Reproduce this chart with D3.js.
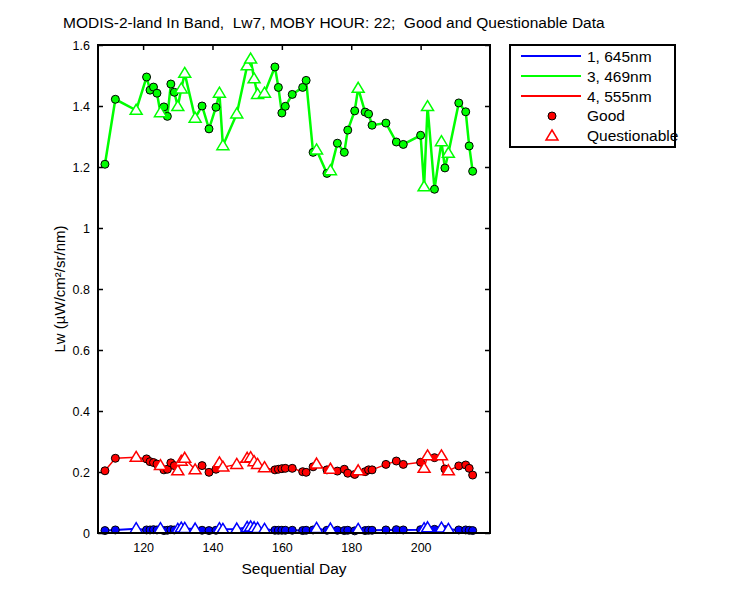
<!DOCTYPE html>
<html><head><meta charset="utf-8">
<script src="https://cdn.jsdelivr.net/npm/d3@7"></script>
<style>body{margin:0;background:#fff}svg{display:block;font-family:"Liberation Sans",Arial,sans-serif}text{white-space:pre}</style>
</head><body>
<script>
const days = [109,112,118,121,122,123,124,125,126,127,128,129,130,131,132,135,137,139,141,142,143,147,150,151,152,153,155,158,159,160,161,163,166,167,169,170,173,174,176,178,179,181,182,184,185,186,190,193,195,200,201,202,204,206,207,208,211,213,214,215];
const quality = ["G","G","Q","G","G","G","G","Q","G","G","G","G","Q","Q","Q","Q","G","G","G","Q","Q","Q","Q","Q","Q","Q","Q","G","G","G","G","G","G","G","G","Q","G","Q","G","G","G","G","Q","G","G","G","G","G","G","G","Q","Q","G","Q","G","Q","G","G","G","G"];
const lw645 = [.008,.010,.014,.010,.010,.011,.010,.014,.008,.009,.011,.010,.012,.016,.015,.013,.009,.008,.009,.014,.012,.013,.018,.020,.017,.015,.012,.009,.009,.009,.009,.009,.008,.009,.010,.015,.009,.013,.009,.008,.009,.007,.012,.008,.009,.009,.010,.011,.010,.011,.014,.017,.012,.016,.011,.012,.010,.010,.009,.008];
const lw469 = [1.209,1.422,1.386,1.495,1.452,1.462,1.442,1.378,1.397,1.366,1.472,1.445,1.398,1.456,1.507,1.360,1.400,1.325,1.396,1.442,1.270,1.374,1.532,1.554,1.489,1.438,1.442,1.528,1.461,1.377,1.399,1.438,1.461,1.484,1.248,1.256,1.179,1.188,1.278,1.248,1.321,1.384,1.458,1.380,1.374,1.337,1.344,1.282,1.274,1.304,1.135,1.398,1.127,1.283,1.197,1.245,1.410,1.381,1.269,1.186];
const lw555 = [.204,.245,.248,.243,.234,.231,.226,.221,.207,.209,.230,.221,.204,.235,.245,.207,.221,.199,.209,.230,.216,.225,.245,.247,.234,.225,.214,.207,.209,.211,.212,.212,.201,.199,.217,.226,.207,.209,.203,.209,.196,.192,.204,.201,.207,.207,.225,.236,.225,.232,.212,.253,.247,.253,.210,.204,.220,.223,.212,.190];
const xTicks = [120,140,160,180,200];
const yTicks = [0,0.2,0.4,0.6,0.8,1,1.2,1.4,1.6];
const seriesNames = ["1, 645nm","3, 469nm","4, 555nm"];
const seriesColors = ["#0000ff","#00ff00","#ff0000"];
const seriesValues = [lw645, lw469, lw555];
const legendMarkers = ["Good","Questionable"];
const titleText = "MODIS-2-land In Band,  Lw7, MOBY HOUR: 22;  Good and Questionable Data";

const W=750,H=600, L=98,T=45,PW=392,PH=488;
const svg=d3.select("body").append("svg").attr("width",W).attr("height",H);
const x=d3.scaleLinear().domain([107,220]).range([L,L+PW]);
const y=d3.scaleLinear().domain([0,1.6]).range([T+PH,T]);

const fmt = d => String(d);
const gx=svg.append("g").attr("transform",`translate(0,${T+PH})`)
  .call(d3.axisBottom(x).tickValues(xTicks).tickSizeInner(-5).tickSizeOuter(0).tickPadding(10));
const gxTop=svg.append("g").attr("transform",`translate(0,${T})`)
  .call(d3.axisTop(x).tickValues(xTicks).tickSizeInner(-5).tickSizeOuter(0).tickFormat(""));
const gy=svg.append("g").attr("transform",`translate(${L},0)`)
  .call(d3.axisLeft(y).tickValues(yTicks).tickFormat(fmt).tickSizeInner(-5).tickSizeOuter(0).tickPadding(8));
const gyR=svg.append("g").attr("transform",`translate(${L+PW},0)`)
  .call(d3.axisRight(y).tickValues(yTicks).tickSizeInner(-5).tickSizeOuter(0).tickFormat(""));
[gx,gxTop,gy,gyR].forEach(g=>{g.select(".domain").remove();g.selectAll("line").attr("stroke","#000").attr("stroke-width",1.5);g.selectAll("text").attr("font-size",12.5).attr("font-family","Liberation Sans, Arial").attr("fill","#000");});

const triPath="M0,-6L6,4L-6,4Z";
const lineWidths=[2,2.5,1.5];
[1,2,0].forEach(si=>{
  const vals=seriesValues[si], col=seriesColors[si];
  const pts=days.map((d,i)=>({d,v:vals[i],q:quality[i]}));
  svg.append("path").datum(pts).attr("fill","none").attr("stroke",col).attr("stroke-width",lineWidths[si])
    .attr("d",d3.line().x(p=>x(p.d)).y(p=>y(p.v)));
  svg.append("g").selectAll("circle").data(pts.filter(p=>p.q==="G")).join("circle")
    .attr("cx",p=>x(p.d)).attr("cy",p=>y(p.v)).attr("r",4).attr("fill",col).attr("stroke","#000").attr("stroke-width",1);
  svg.append("g").selectAll("path").data(pts.filter(p=>p.q==="Q")).join("path")
    .attr("d",triPath).attr("transform",p=>`translate(${x(p.d)},${y(p.v)})`)
    .attr("fill","#fff").attr("stroke",col).attr("stroke-width",1.5);
});

svg.append("rect").attr("x",L).attr("y",T).attr("width",PW).attr("height",PH).attr("fill","none").attr("stroke","#000").attr("stroke-width",2);

svg.append("text").attr("x",63).attr("y",28).attr("text-anchor","start").attr("font-size",15.5).text(titleText);
svg.append("text").attr("x",L+PW/2).attr("y",574).attr("text-anchor","middle").attr("font-size",15.5).text("Sequential Day");
svg.append("text").attr("transform",`translate(65,${T+PH/2}) rotate(-90)`).attr("text-anchor","middle").attr("font-size",15).text("Lw (µW/cm²/sr/nm)");

// legend
const lg=svg.append("g");
lg.append("rect").attr("x",510).attr("y",45).attr("width",165).attr("height",102).attr("fill","#fff").attr("stroke","#000").attr("stroke-width",2);
seriesNames.forEach((n,i)=>{
  const yy=56+i*20;
  lg.append("line").attr("x1",521).attr("x2",581).attr("y1",yy).attr("y2",yy).attr("stroke",seriesColors[i]).attr("stroke-width",2);
  lg.append("text").attr("x",587).attr("y",yy+6).attr("font-size",15.5).text(n);
});
lg.append("circle").attr("cx",552).attr("cy",116).attr("r",4).attr("fill","#ff0000").attr("stroke","#000").attr("stroke-width",1);
lg.append("text").attr("x",587).attr("y",121).attr("font-size",15.5).text(legendMarkers[0]);
lg.append("path").attr("d",triPath).attr("transform","translate(552,136)").attr("fill","#fff").attr("stroke","#ff0000").attr("stroke-width",1.5);
lg.append("text").attr("x",587).attr("y",141).attr("font-size",15.5).text(legendMarkers[1]);
</script>
</body></html>
